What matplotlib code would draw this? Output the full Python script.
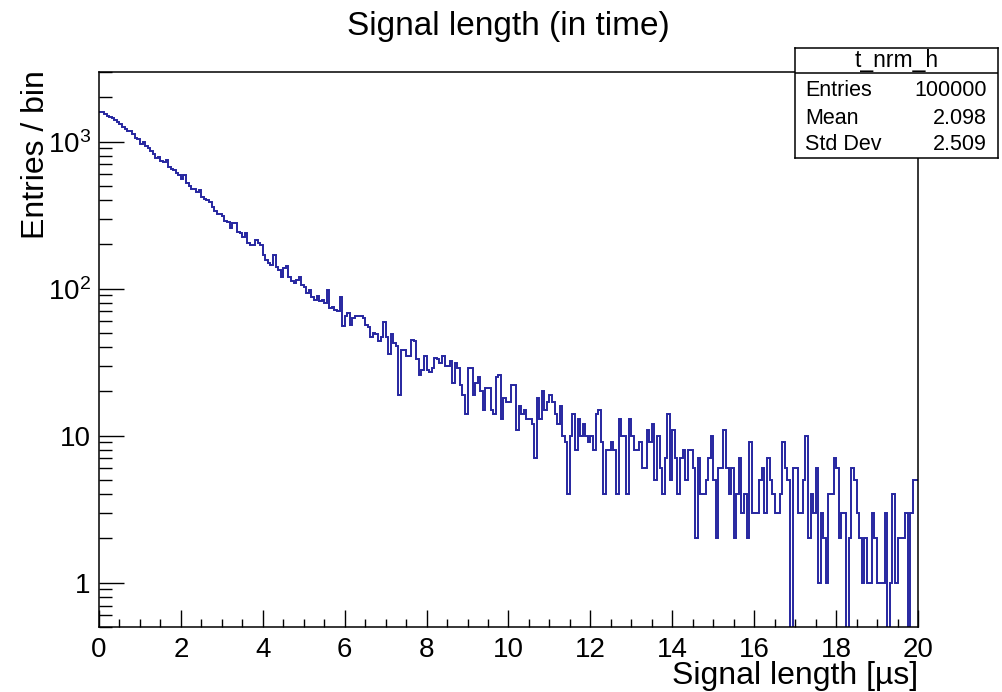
import numpy as np
import matplotlib
matplotlib.use("Agg")
import matplotlib.pyplot as plt
from matplotlib.ticker import FixedLocator, FixedFormatter, MultipleLocator, NullFormatter, LogLocator

plt.rcParams["font.family"] = ["Liberation Sans", "DejaVu Sans"]
plt.rcParams["mathtext.fontset"] = "custom"
plt.rcParams["mathtext.rm"] = "Liberation Sans"
plt.rcParams["mathtext.it"] = "Liberation Sans:italic"

# histogram t_nrm_h: 320 bins of 62.5 ns from 0 to 20 us
x_min, x_max, n_bins = 0.0, 20.0, 320
counts = [
    1600, 1580, 1540, 1500, 1480, 1450, 1400, 1370, 1320, 1260,
    1210, 1190, 1180, 1130, 1060, 1040, 960, 990, 930, 900,
    860, 820, 780, 790, 740, 730, 745, 670, 650, 640,
    610, 590, 560, 590, 520, 500, 480, 475, 455, 470,
    420, 410, 400, 390, 360, 340, 320, 320, 310, 290,
    285, 258, 280,
    279, 244, 238, 226, 240, 204, 198, 198, 214, 204,
    198, 170, 157, 149, 145, 170, 141, 134, 121, 138,
    143, 121, 112, 109, 115, 120, 106, 103, 93, 98,
    88, 84, 89, 82, 84, 80, 98, 74, 75, 72,
    70, 88, 56, 65, 68, 57, 63, 65, 65, 65,
    63, 57, 55, 47,
    50, 49, 44, 47, 59, 47, 36, 49, 43, 41,
    19, 38, 38, 35, 35, 45, 44, 33, 26, 28,
    35, 28, 27, 29, 34, 33, 31, 35, 30, 30,
    32, 23, 31, 29, 22, 19, 14, 29, 29, 19,
    23, 25, 20, 15, 21, 21, 15, 14, 25, 26,
    13, 18, 17, 17,
    22, 22, 11, 16, 14, 15, 13, 13, 12, 7,
    18, 13, 20, 15, 17, 19, 17, 14, 12, 16,
    10, 9, 4, 10, 14, 8, 13, 10, 12, 10,
    9, 10, 8, 14, 15, 9, 4, 8, 8, 9,
    8, 4, 13, 10, 10, 4, 13, 10, 8, 8,
    9, 6, 6, 11,
    9, 12, 5, 10, 6, 4, 7, 14, 5, 11,
    7, 4, 7, 8, 5, 8, 8, 6, 2, 7,
    4, 4, 5, 7, 10, 5, 2, 6, 6, 11,
    6, 4, 6, 2, 4, 7, 3, 4, 2, 9,
    3, 3, 3, 5, 6, 3, 7, 5, 4, 3,
    3, 4, 9, 6,
    5, 0, 6, 6, 3, 3, 5, 10, 2, 4,
    3, 6, 1, 3, 2, 1, 4, 4, 7, 6,
    2, 3, 3, 0, 2, 6, 5, 3, 2, 1,
    2, 1, 1, 3, 2, 1, 1, 1, 3, 0,
    1, 4, 1, 2, 2, 2, 3, 0, 3, 5,
    5,
]

stats_name = "t_nrm_h"
stats_rows = [("Entries", "100000"), ("Mean", "2.098"), ("Std Dev", "2.509")]

y_ticks = [1, 10, 100, 1000]
y_tick_labels = ["1", "10", r"$10^{2}$", r"$10^{3}$"]

W, H = 1003, 692
fig = plt.figure(figsize=(W / 100, H / 100), dpi=100)
ax = fig.add_axes([99 / W, 1 - 627 / H, (918 - 99) / W, (627 - 71.5) / H])

edges = np.linspace(x_min, x_max, n_bins + 1)
vals = np.array(counts, dtype=float)
vals = np.where(vals > 0, vals, 1e-3)  # empty bins drop to the floor like ROOT
ax.stairs(vals, edges, color="#2626a0", linewidth=1.4, baseline=None)

ax.set_yscale("log")
ax.set_xlim(x_min, x_max)
ax.set_ylim(0.5, 3000)

ax.xaxis.set_major_locator(MultipleLocator(2))
ax.xaxis.set_minor_locator(MultipleLocator(0.5))
ax.yaxis.set_major_locator(FixedLocator(y_ticks))
ax.yaxis.set_major_formatter(FixedFormatter(y_tick_labels))
ax.yaxis.set_minor_locator(LogLocator(base=10, subs=np.arange(2, 10)))
ax.yaxis.set_minor_formatter(NullFormatter())

ax.tick_params(which="both", direction="in", top=False, right=False, colors="black", labelsize=20)
ax.tick_params(axis="x", which="major", length=12, width=1.0, pad=7)
ax.tick_params(axis="x", which="minor", length=6, width=1.0)
ax.tick_params(axis="y", which="major", length=18, width=1.0, pad=6)
ax.tick_params(axis="y", which="minor", length=9, width=1.0)
for s in ax.spines.values():
    s.set_linewidth(1.1)

fig.text(508 / W, 1 - 27 / H, "Signal length (in time)", ha="center", va="center", fontsize=24)
fig.text(918 / W, 1 - 676 / H, r"Signal length [µs]", ha="right", va="center", fontsize=23)
fig.text(36 / W, 1 - 70 / H, "Entries / bin", ha="center", va="top", rotation=90, fontsize=23)

# stats box
bx0, bx1, by0, by1 = 795, 998, 48, 158
sax = fig.add_axes([bx0 / W, 1 - by1 / H, (bx1 - bx0) / W, (by1 - by0) / H])
sax.set_xlim(0, 1)
sax.set_ylim(0, 1)
sax.set_xticks([])
sax.set_yticks([])
sax.set_facecolor("white")
for s in sax.spines.values():
    s.set_linewidth(1.1)
sep = (by1 - 73) / (by1 - by0)
sax.axhline(sep, color="black", linewidth=1.1)
sax.text(0.5, (by1 - 61) / (by1 - by0), stats_name, ha="center", va="center", fontsize=16.5)
row_y = [91, 118, 145]
for (label, value), yy in zip(stats_rows, row_y):
    fy = (by1 - yy) / (by1 - by0)
    sax.text(10 / (bx1 - bx0), fy, label, ha="left", va="center", fontsize=15.5)
    sax.text((987 - bx0) / (bx1 - bx0), fy, value, ha="right", va="center", fontsize=15.5)

fig.savefig("out.png", dpi=100)
